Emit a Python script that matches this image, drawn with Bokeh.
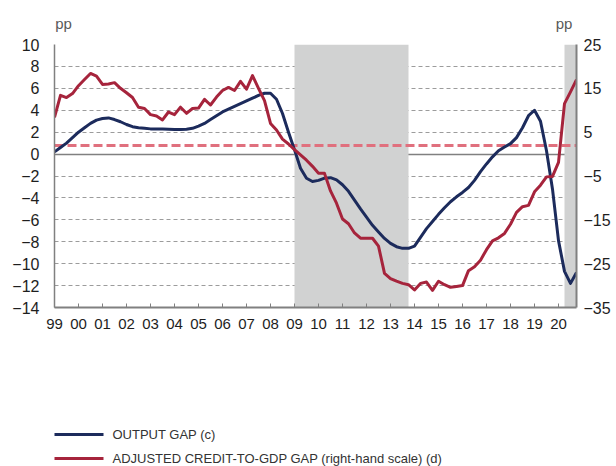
from bokeh.plotting import figure
from bokeh.layouts import column
from bokeh.models import Range1d, LinearAxis, FixedTicker
from bokeh.core.properties import value
from bokeh.embed import file_html
from bokeh.resources import INLINE

# ---------------- data ----------------
years = list(range(1999, 2021))
year_labels = ["99", "00", "01", "02", "03", "04", "05", "06", "07", "08", "09",
               "10", "11", "12", "13", "14", "15", "16", "17", "18", "19", "20"]
quarter_dates = [y + q / 4 for y in years for q in range(4)]

# Output gap (left scale, pp), quarterly 1999Q1-2020Q4
output_gap = [
    0.2, 0.6, 1.0, 1.5,
    2.0, 2.4, 2.8, 3.1,
    3.25, 3.3, 3.15, 2.95,
    2.7, 2.5, 2.4, 2.35,
    2.3, 2.3, 2.28, 2.27,
    2.25, 2.25, 2.27, 2.35,
    2.55, 2.8, 3.15, 3.5,
    3.85, 4.1, 4.35, 4.6,
    4.85, 5.1, 5.35, 5.55,
    5.55, 5.0, 3.7, 2.0,
    0.4, -1.3, -2.2, -2.5,
    -2.4, -2.2, -2.15, -2.35,
    -2.8, -3.4, -4.2, -5.0,
    -5.75, -6.5, -7.1, -7.7,
    -8.15, -8.45, -8.6, -8.6,
    -8.4, -7.6, -6.8, -6.15,
    -5.5, -4.9, -4.35, -3.9,
    -3.5, -3.05, -2.4, -1.6,
    -0.9, -0.25, 0.3, 0.65,
    0.95, 1.5, 2.4, 3.5,
    4.0, 3.0, 0.3, -3.2,
    -7.9, -10.7, -11.8, -10.8,
]

# Adjusted credit-to-GDP gap (right scale, pp), quarterly 1999Q1-2020Q4
credit_gap = [
    8.4, 13.4, 12.9, 13.8,
    15.6, 17.0, 18.4, 17.8,
    15.9, 16.0, 16.3, 15.0,
    14.0, 12.9, 10.7, 10.4,
    9.0, 8.7, 7.8, 9.6,
    9.0, 10.7, 9.3, 10.4,
    10.5, 12.5, 11.2, 13.0,
    14.5, 15.2, 14.5, 16.6,
    14.8, 17.9, 15.0, 12.2,
    7.0, 5.5, 3.4, 2.3,
    1.0, -0.2, -1.4, -2.8,
    -4.35, -4.4, -8.4, -11.2,
    -14.8, -15.9, -18.0, -19.2,
    -19.2, -19.2, -21.0, -27.2,
    -28.4, -29.0, -29.5, -29.8,
    -31.0, -29.5, -29.2, -31.1,
    -29.0, -29.8, -30.4, -30.2,
    -30.0, -26.6, -25.7, -24.2,
    -21.8, -19.8, -19.1, -18.1,
    -16.0, -13.3, -12.0, -11.7,
    -8.6, -7.1, -5.2, -5.1,
    -1.9, 11.5, 14.2, 17.0,
]

shade_start = [2009.0, 2020.25]
shade_end = [2013.75, 2020.75]
threshold = [2.0]            # right-hand scale
zero_level = [0]
left_ticks = [-14, -12, -10, -8, -6, -4, -2, 0, 2, 4, 6, 8, 10]
right_ticks = [-35, -25, -15, -5, 5, 15, 25]
unit_text = "pp"
series_names = ["OUTPUT GAP (c)", "ADJUSTED CREDIT-TO-GDP GAP (right-hand scale) (d)"]

# ---------------- style ----------------
NAVY = "#1c2b5c"
RED = "#a6243c"
PINK = "#e0707e"
SHADE = "#d1d2d2"
GRID = "#9c9c9c"
AXIS = "#808080"
TXT = "#1e1e1e"
FONT = "Liberation Sans"
UNIT_POS = [1999.38, 2020.23]   # horizontal placement of the two "pp" unit labels

p = figure(frame_width=522, frame_height=263,
           min_border_left=54, min_border_top=44, min_border_right=40, min_border_bottom=40,
           x_range=Range1d(quarter_dates[0], shade_end[-1]),
           y_range=Range1d(left_ticks[0], left_ticks[-1]),
           output_backend="svg", toolbar_location=None)
p.extra_y_ranges = {"right": Range1d(right_ticks[0], right_ticks[-1])}
p.outline_line_color = None
p.background_fill_color = "white"
p.border_fill_color = "white"

# grid
p.xgrid.visible = False
p.ygrid.ticker = FixedTicker(ticks=left_ticks)
p.ygrid.grid_line_color = GRID
p.ygrid.grid_line_dash = "4 3"
p.ygrid.grid_line_width = 1

# zero line, shading, threshold
p.hspan(y=zero_level, line_color=AXIS, line_width=1.5)
p.vstrip(x0=shade_start, x1=shade_end, fill_color=SHADE, line_color=None)
p.hspan(y=threshold, y_range_name="right", line_color=PINK, line_width=3, line_dash="9 4")

# series
p.line(quarter_dates, output_gap, line_color=NAVY, line_width=3, line_join="round")
p.line(quarter_dates, credit_gap, line_color=RED, line_width=3, line_join="round",
       y_range_name="right")

# axes
xa = p.xaxis[0]
xa.ticker = FixedTicker(ticks=years)
xa.major_label_overrides = {y: lab for y, lab in zip(years, year_labels)}
xa.major_tick_in = 4
xa.major_tick_out = 0
xa.minor_tick_line_color = None
xa.axis_line_color = AXIS
xa.axis_line_width = 2
xa.major_tick_line_color = AXIS
xa.major_label_standoff = 11
xa.major_label_text_font = FONT
xa.major_label_text_font_size = "15px"
xa.major_label_text_color = TXT

ya = p.yaxis[0]
ya.ticker = FixedTicker(ticks=left_ticks)
ya.major_tick_in = 0
ya.major_tick_out = 0
ya.minor_tick_line_color = None
ya.axis_line_color = AXIS
ya.axis_line_width = 1.5
ya.major_label_standoff = 15
ya.major_label_text_font = FONT
ya.major_label_text_font_size = "16px"
ya.major_label_text_color = TXT

ra = LinearAxis(y_range_name="right", ticker=FixedTicker(ticks=right_ticks))
ra.major_tick_in = 0
ra.major_tick_out = 0
ra.minor_tick_line_color = None
ra.axis_line_color = AXIS
ra.axis_line_width = 2
ra.major_label_standoff = 7
ra.major_label_text_font = FONT
ra.major_label_text_font_size = "16px"
ra.major_label_text_color = TXT
p.add_layout(ra, "right")

# "pp" unit labels through an axis above the frame
ua = LinearAxis(ticker=FixedTicker(ticks=UNIT_POS))
ua.major_label_overrides = {v: unit_text for v in UNIT_POS}
ua.axis_line_color = None
ua.major_tick_line_color = None
ua.minor_tick_line_color = None
ua.major_tick_in = 0
ua.major_tick_out = 0
ua.major_label_standoff = 13
ua.major_label_text_font = FONT
ua.major_label_text_font_size = "15px"
ua.major_label_text_color = "#595959"
p.add_layout(ua, "above")

# ---------------- legend strip below the chart ----------------
# the strip's frame is aligned with the chart frame (page x 54..576), so its x range
# is expressed directly in page pixels
main_height = 44 + 263 + 40
strip_height = 466 - main_height
lg = figure(width=616, height=strip_height,
            x_range=Range1d(54, 576), y_range=Range1d(strip_height, 0),
            x_axis_type=None, y_axis_type=None,
            min_border=0, output_backend="svg", toolbar_location=None)
lg.outline_line_color = None
lg.xgrid.visible = False
lg.ygrid.visible = False
lg.background_fill_color = "white"
lg.border_fill_color = "white"

KEY_X0, KEY_X1, KEY_TEXT_X = 52, 103, 112
KEY_ROWS = [87, 111]
lg.segment(x0=[KEY_X0] * 2, x1=[KEY_X1] * 2, y0=KEY_ROWS, y1=KEY_ROWS,
           line_color=[NAVY, RED], line_width=3)
lg.text(x=[KEY_TEXT_X] * 2, y=KEY_ROWS, text=series_names,
        text_font=value(FONT), text_font_size="13px", text_color="#333333",
        text_baseline="middle", text_align="left")

layout = column(p, lg, spacing=0)
open("out.html", "w").write(file_html(layout, INLINE))
